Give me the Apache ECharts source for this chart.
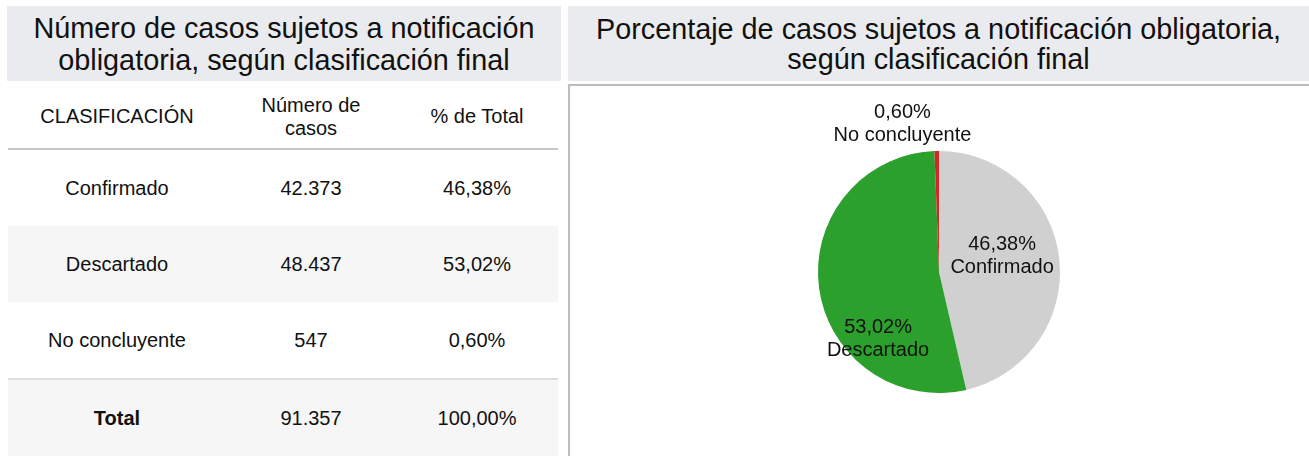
<!DOCTYPE html>
<html>
<head>
<meta charset="utf-8">
<script src="https://cdn.jsdelivr.net/npm/echarts@6/dist/echarts.min.js"></script>
<style>
    body {
        margin: 0;
        width: 1309px;
        height: 456px;
        position: relative;
        overflow: hidden;
        background: #fff;
        font-family: 'Liberation Sans', Arial, sans-serif;
        color: #111;
    }
    .title {
        position: absolute;
        top: 6px;
        height: 75px;
        background: #eaebef;
        display: flex;
        align-items: center;
        justify-content: center;
        text-align: center;
        font-size: 28.8px;
        line-height: 32px;
    }
    #t1 { left: 7px; width: 554px; }
    #t2 { left: 568px; width: 741px; line-height: 30px; }
    #tabla {
        position: absolute;
        left: 8px;
        top: 85px;
        width: 550px;
        border-collapse: collapse;
        font-size: 20px;
        table-layout: fixed;
    }
    #tabla td, #tabla th {
        text-align: center;
        padding: 0;
        font-weight: normal;
    }
    #tabla th { height: 63px; line-height: 23px; border-bottom: 2px solid #c6c6c6; }
    #tabla td { height: 76px; }
    #tabla tr.par td { background: #f6f6f6; }
    #tabla tr.total td { border-top: 2px solid #dedede; background: #f6f6f6; }
    #panel {
        position: absolute;
        left: 568px;
        top: 84px;
        width: 741px;
        height: 372px;
        border-top: 2px solid #bdbdbd;
        border-left: 2px solid #bdbdbd;
        box-sizing: border-box;
    }
    #pie { position: absolute; left: 2px; top: 2px; width: 737px; height: 368px; }
</style>
</head>
<body>
<div class="title" id="t1">Número de casos sujetos a notificación<br>obligatoria, según clasificación final</div>
<div class="title" id="t2">Porcentaje de casos sujetos a notificación obligatoria,<br>según clasificación final</div>
<table id="tabla">
    <colgroup><col style="width:218px"><col style="width:170px"><col style="width:162px"></colgroup>
    <thead><tr><th>CLASIFICACIÓN</th><th>Número de<br>casos</th><th>% de Total</th></tr></thead>
    <tbody id="cuerpo"></tbody>
</table>
<div id="panel"><div id="pie"></div></div>

<script>
// datos
const categorias = ['Confirmado', 'Descartado', 'No concluyente']
const casos = [42373, 48437, 547]
const porcentajes = [46.38, 53.02, 0.60]
const totalCasos = 91357
const totalPct = 100.00
const colores = ['#d0d0d0', '#2ca02c', '#d62728']

// formato es: 42.373 / 46,38%
function fmtNum (n) {
    return String(n).replace(/\B(?=(\d{3})+(?!\d))/g, '.')
}
function fmtPct (p) {
    return p.toFixed(2).replace('.', ',') + '%'
}

// tabla
let filas = ''
for (let i = 0; i < categorias.length; i++) {
    filas += '<tr class="' + (i % 2 ? 'par' : '') + '"><td>' + categorias[i] + '</td><td>' +
        fmtNum(casos[i]) + '</td><td>' + fmtPct(porcentajes[i]) + '</td></tr>'
}
filas += '<tr class="total"><td><b>Total</b></td><td>' + fmtNum(totalCasos) + '</td><td>' + fmtPct(totalPct) + '</td></tr>'
document.getElementById('cuerpo').innerHTML = filas

// desplazamiento de etiquetas (como en el original)
const ajusteEtiquetas = [
    { dx: 0, dy: -9 },
    { dx: 2, dy: 59 },
    { dx: 1, dy: -12, align: 'center' }
]

const chart = echarts.init(document.getElementById('pie'))
chart.setOption({
    animation: false,
    series: [
        {
            type: 'pie',
            center: [367, 184],
            radius: 121,
            startAngle: 90,
            clockwise: true,
            avoidLabelOverlap: false,
            itemStyle: { borderWidth: 0 },
            label: {
                position: 'inside',
                color: '#111',
                fontSize: 20,
                lineHeight: 23,
                fontFamily: 'Liberation Sans',
                formatter: function (p) {
                    return fmtPct(porcentajes[p.dataIndex]) + '\n' + p.name
                }
            },
            labelLine: { show: false },
            labelLayout: function (p) {
                return ajusteEtiquetas[p.dataIndex]
            },
            data: categorias.map(function (c, i) {
                let item = { name: c, value: casos[i], itemStyle: { color: colores[i] } }
                if (i === 2) {
                    item.label = { position: 'outside' }
                    item.labelLine = { show: false }
                }
                return item
            })
        }
    ]
})
</script>
</body>
</html>
